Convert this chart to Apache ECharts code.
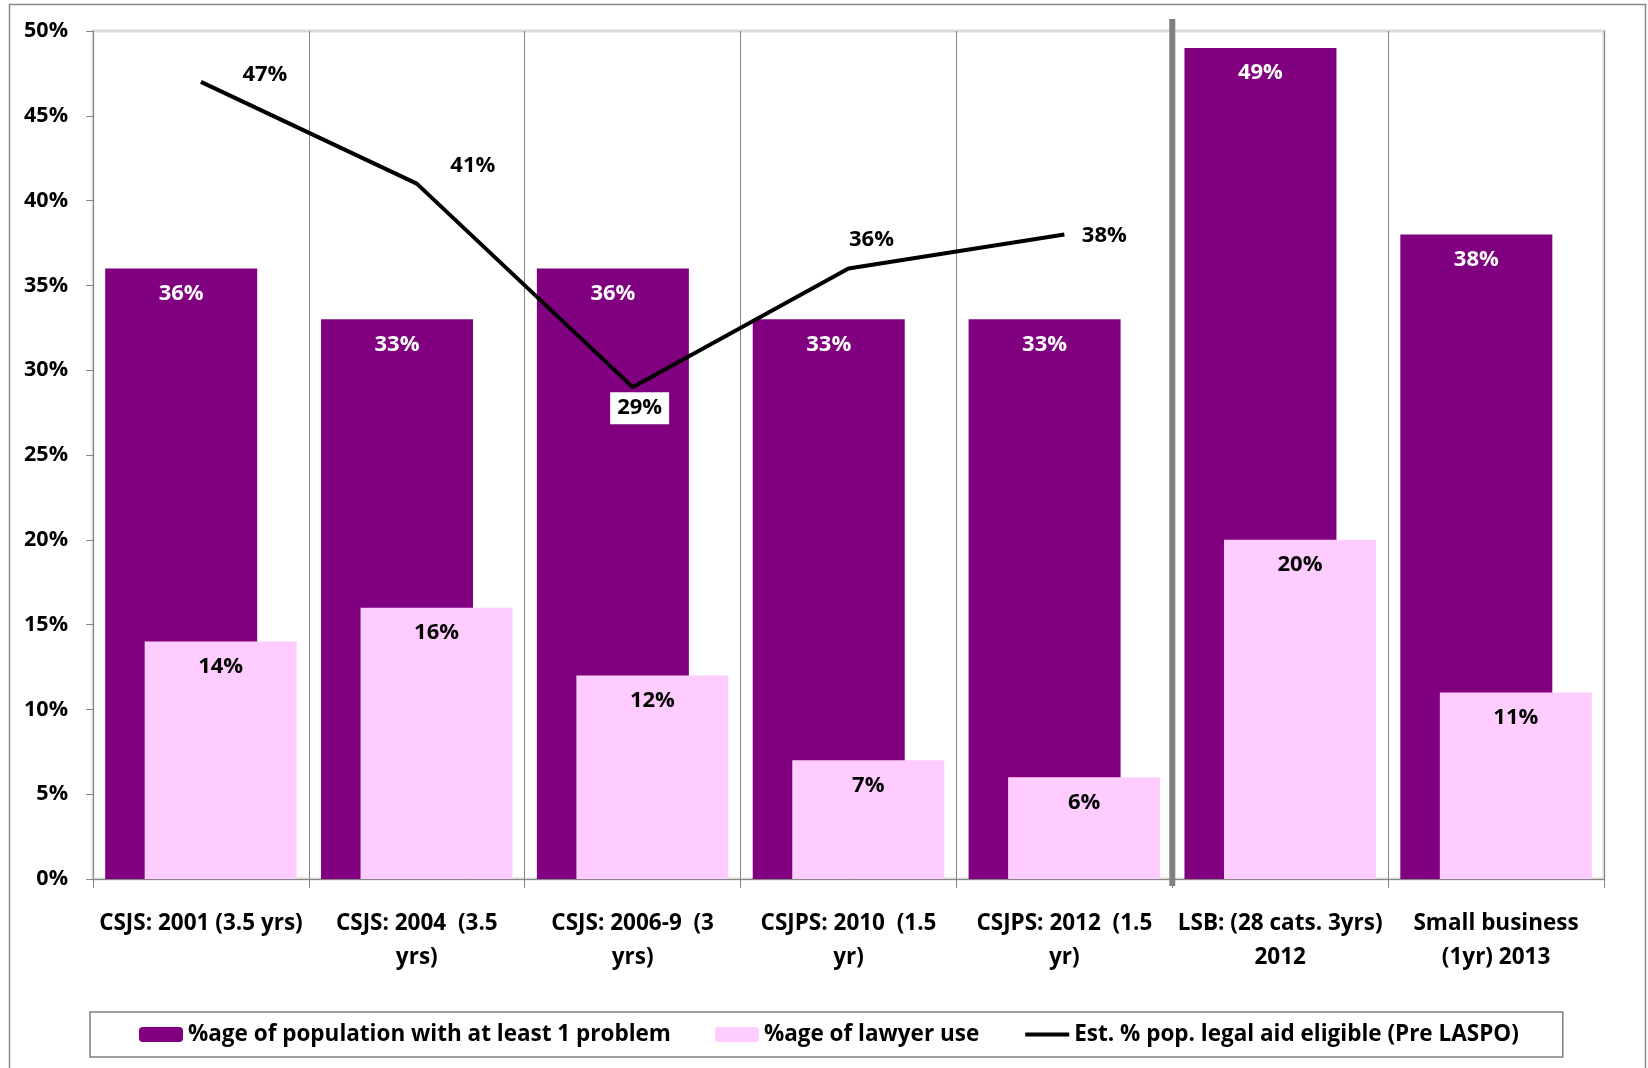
<!DOCTYPE html>
<html><head><meta charset="utf-8">
<script src="https://cdn.jsdelivr.net/npm/echarts@6/dist/echarts.min.js"></script>
<style>html,body{margin:0;padding:0;background:#fff}#c{width:1648px;height:1068px}</style>
</head><body><div id="c"></div>
<script>
const categories = ["CSJS: 2001 (3.5 yrs)", "CSJS: 2004  (3.5\nyrs)", "CSJS: 2006-9  (3\nyrs)", "CSJPS: 2010  (1.5\nyr)", "CSJPS: 2012  (1.5\nyr)", "LSB: (28 cats. 3yrs)\n2012", "Small business\n(1yr) 2013"];
const problemPct = [36, 33, 36, 33, 33, 49, 38];
const lawyerPct = [14, 16, 12, 7, 6, 20, 11];
const legalAidPct = [47, 41, 29, 36, 38];
const seriesNames = ["%age of population with at least 1 problem", "%age of lawyer use", "Est. % pop. legal aid eligible (Pre LASPO)"];
const yMin = 0, yMax = 50, yInterval = 5;
const lineLabelOffsets = [[64, -7], [56, -18], [7, 21], [23, -29], [40, 1]];

const FONT = '"Open Sans", Lato, sans-serif';
const chart = echarts.init(document.getElementById('c'), null, {renderer: 'canvas'});

const lineData = legalAidPct.map((v, i) => {
  const lbl = {offset: lineLabelOffsets[i]};
  if (i === 2) { lbl.backgroundColor = '#ffffff'; lbl.padding = [5, 7]; }
  return {value: v, label: lbl};
});

const option = {
  animation: false,
  backgroundColor: '#ffffff',
  textStyle: {fontFamily: FONT},
  grid: {left: 93, right: 44, top: 31, bottom: 189, show: true, borderColor: '#d9d9d9', borderWidth: 3, backgroundColor: 'transparent'},
  legend: {
    data: [
      {name: seriesNames[0]},
      {name: seriesNames[1]},
      {name: seriesNames[2], itemStyle: {color: 'rgba(0,0,0,0)', borderWidth: 0}, lineStyle: {width: 4, color: '#000'}}
    ],
    left: 90, top: 1012,
    padding: [11, 44, 11, 49],
    borderColor: '#7f7f7f', borderWidth: 1.5,
    itemWidth: 44, itemHeight: 15, itemGap: 44,
    textStyle: {fontSize: 22.5, fontWeight: 'bold', color: '#000', fontFamily: FONT}
  },
  xAxis: {
    type: 'category',
    data: categories,
    axisLine: {lineStyle: {color: '#868686', width: 1}},
    axisTick: {show: true, length: 9, lineStyle: {color: '#868686'}},
    splitLine: {show: true, lineStyle: {color: '#868686', width: 1}},
    axisLabel: {interval: 0, margin: 28, lineHeight: 34, fontSize: 22.5, fontWeight: 'bold', color: '#000', fontFamily: FONT}
  },
  yAxis: {
    type: 'value', min: yMin, max: yMax, interval: yInterval,
    axisLine: {show: true, lineStyle: {color: '#868686', width: 1}},
    axisTick: {show: true, length: 7, lineStyle: {color: '#868686'}},
    splitLine: {show: false},
    axisLabel: {formatter: '{value}%', margin: 25, fontSize: 21.5, fontWeight: 'bold', color: '#000', fontFamily: FONT}
  },
  series: [
    {
      name: seriesNames[0], type: 'bar', data: problemPct,
      barWidth: 152, barGap: '-74%',
      itemStyle: {color: '#800080'},
      label: {show: true, position: 'insideTop', distance: 14, formatter: '{c}%', color: '#fff', fontSize: 22, fontWeight: 'bold', fontFamily: FONT}
    },
    {
      name: seriesNames[1], type: 'bar', data: lawyerPct,
      barWidth: 152, barGap: '-74%',
      itemStyle: {color: '#ffccff'},
      label: {show: true, position: 'insideTop', distance: 14, formatter: '{c}%', color: '#000', fontSize: 22, fontWeight: 'bold', fontFamily: FONT}
    },
    {
      name: seriesNames[2], type: 'line', data: lineData, z: 5,
      symbol: 'circle', symbolSize: 0,
      lineStyle: {color: '#000', width: 4},
      itemStyle: {color: '#000'},
      label: {show: true, position: 'inside', formatter: '{c}%', color: '#000', fontSize: 22, fontWeight: 'bold', fontFamily: FONT}
    }
  ]
};
chart.setOption(option);

const xa = chart.convertToPixel({xAxisIndex: 0}, categories[4]);
const xb = chart.convertToPixel({xAxisIndex: 0}, categories[5]);
const yTop = chart.convertToPixel({yAxisIndex: 0}, yMax);
const yBot = chart.convertToPixel({yAxisIndex: 0}, yMin);
const sepX = (xa + xb) / 2;
chart.setOption({
  graphic: [
    {type: 'rect', shape: {x: 9.5, y: 4.5, width: 1636, height: 1090}, style: {fill: 'none', stroke: '#8a8a8a', lineWidth: 1.5}, silent: true, z: 0},
    {type: 'line', shape: {x1: sepX, y1: yTop - 12, x2: sepX, y2: yBot + 7}, style: {stroke: '#808080', lineWidth: 6}, z: 10, silent: true}
  ]
});
</script></body></html>
